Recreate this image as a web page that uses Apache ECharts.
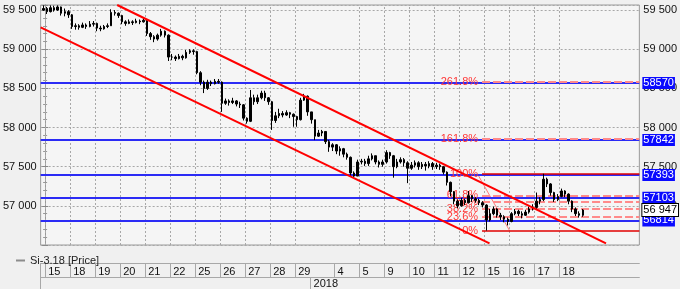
<!DOCTYPE html>
<html><head><meta charset="utf-8">
<script src="https://cdn.jsdelivr.net/npm/echarts@6/dist/echarts.min.js"></script>
<style>html,body{margin:0;padding:0;background:#f0f0f0}#c{width:680px;height:289px}</style>
</head><body><div id="c"></div>
<script>
const seriesName = 'Si-3.18 [Price]';
const dayLabels = ['15','18','19','20','21','22','25','26','27','28','29','4','5','9','10','11','12','15','16','17','18'];
const dayStarts = [0,7,14,21,28,35,42,49,56,63,70,81,88,95,102,109,116,123,130,137,144];
const gridDays = [0,7,14,21,28,35,42,49,56,63,70,88,95,102,109,116,123,130,137,144];
const yearLabel = '2018';
const yearStart = 74.3;
const firstOpen = 59500;
const closes = [
59520,59480,59530,59500,59540,59460,59480,59440,59290,59300,
59280,59310,59290,59320,59330,59270,59260,59290,59300,59470,
59460,59430,59350,59330,59350,59340,59360,59350,59370,59200,
59160,59130,59180,59230,59180,58900,58900,58880,58910,58890,
58960,58980,58970,58700,58580,58500,58580,58560,58590,58580,
58310,58340,58320,58340,58300,58290,58120,58080,58380,58330,
58380,58440,58380,58330,58090,58150,58180,58160,58190,58170,
58140,58100,58350,58400,58200,58100,57890,57930,57950,57820,
57750,57780,57700,57730,57660,57620,57420,57380,57560,57570,
57540,57600,57640,57560,57530,57560,57680,57640,57500,57560,
57590,57550,57480,57520,57550,57500,57530,57510,57540,57500,
57520,57500,57430,57300,57180,57060,57000,57070,57040,57130,
57090,57070,57040,57010,56820,56900,56960,56880,56860,56830,
56800,56900,56930,56900,56880,56920,56960,56980,57060,57080,
57340,57280,57170,57080,57120,57190,57150,57060,56960,56900,
56880,56947];
const highs = [
59560,59540,59560,59555,59560,59545,59520,59500,59450,59330,
59320,59340,59330,59360,59360,59340,59300,59310,59330,59510,
59500,59470,59440,59370,59380,59370,59390,59380,59400,59370,
59220,59180,59200,59260,59240,59190,58940,58920,58940,58930,
58990,59000,59000,58980,58720,58600,58610,58600,58620,58620,
58590,58370,58360,58380,58350,58330,58300,58130,58480,58420,
58420,58470,58470,58390,58340,58200,58240,58210,58220,58200,
58180,58150,58380,58430,58410,58200,58100,57970,57970,57950,
57840,57800,57790,57760,57740,57680,57630,57440,57590,57600,
57600,57640,57670,57640,57580,57590,57710,57690,57650,57600,
57620,57610,57570,57560,57580,57570,57560,57560,57570,57560,
57550,57540,57510,57440,57310,57190,57080,57100,57090,57190,
57140,57110,57090,57060,57020,56960,56990,56970,56910,56880,
56850,56920,56960,56950,56930,56950,56990,57020,57170,57110,
57410,57360,57290,57180,57150,57220,57200,57160,57070,56980,
56930,56960];
const lows = [
59490,59450,59470,59480,59490,59430,59420,59400,59260,59250,
59250,59270,59260,59280,59290,59230,59230,59250,59270,59300,
59430,59400,59320,59300,59320,59310,59330,59320,59340,59170,
59120,59090,59110,59160,59150,58850,58860,58850,58870,58860,
58880,58940,58930,58680,58540,58440,58480,58530,58550,58560,
58200,58290,58280,58300,58270,58250,58090,58050,58070,58290,
58300,58360,58340,58290,57970,58060,58120,58130,58150,58120,
58010,58010,58090,58340,58150,58050,57840,57880,57890,57790,
57690,57700,57660,57640,57620,57590,57370,57360,57380,57530,
57510,57510,57580,57530,57490,57500,57540,57600,57360,57480,
57540,57500,57290,57460,57490,57460,57470,57450,57480,57460,
57470,57460,57400,57260,57120,57020,56970,56990,57010,57030,
57050,57040,57010,56980,56684,56800,56880,56850,56820,56790,
56750,56790,56880,56870,56840,56870,56900,56940,56960,57020,
57060,57240,57130,57050,57060,57110,57110,57020,56920,56870,
56850,56860];
const levels = [58570,57842,57393,57103,56814];
const fibLow = 56684, fibHigh = 57410, fibStart = 122.3;
const fibLevels = [0,23.6,38.2,50,61.8,100,161.8,261.8];
const fibDiagonal = [[121.0,57410],[130.0,56684]];
const upperChannel = [[20.17,59565],[157.0,56521]];
const lowerChannel = [[-1.26,59279],[124.4,56521]];
const lastPrice = closes[closes.length-1];

const X_MIN = -1.257, X_MAX = 166.34, Y_MIN = 56500, Y_MAX = 59565;
const fmt = v => String(Math.round(v)).replace(/\B(?=(\d{3})+(?!\d))/g,' ');
const FONT = 'Liberation Sans';
const FS = 11;

const candles = closes.map((c,i)=>{
  const o = i ? closes[i-1] : firstOpen;
  return [i-0.5, o, c, Math.min(lows[i],o,c), Math.max(highs[i],o,c)];
});

const fibLines = fibLevels.map(l=>{
  const p = fibLow + (fibHigh-fibLow)*l/100;
  const solid = (l===0||l===100);
  const ls = solid ? {color:'#e00000', width:1.5, type:'solid'} : {color:'#ff8a8a', width:2, type:[8,3]};
  const lab = {show:true, position:'start', distance:4, formatter: l+'%', color:'#ff3838', fontSize:FS, fontFamily:FONT};
  return [{coord:[fibStart,p], lineStyle:ls, label:lab},{coord:[X_MAX,p], lineStyle:ls}];
});

const chart = echarts.init(document.getElementById('c'));
chart.setOption({
  backgroundColor:'#f0f0f0',
  animation:false,
  textStyle:{fontFamily:FONT},
  legend:{left:11, top:250, icon:'rect', itemWidth:9, itemHeight:2, itemGap:6,
    itemStyle:{color:'#8c8c8c', borderWidth:0},
    textStyle:{fontSize:FS, color:'#222', fontFamily:FONT},
    data:[{name:seriesName, icon:'rect', itemStyle:{color:'#8c8c8c', borderColor:'#8c8c8c', borderWidth:0}}]},
  grid:{left:40, right:40, top:5, bottom:44, show:true, backgroundColor:'#f5f5f5', borderColor:'#9a9a9a', borderWidth:1},
  xAxis:[{
    type:'value', min:X_MIN, max:X_MAX, position:'bottom', offset:18,
    axisLine:{show:true, lineStyle:{color:'#a8a8a8'}},
    axisTick:{show:true, customValues:[X_MIN].concat(dayStarts), length:14, lineStyle:{color:'#a8a8a8'}},
    axisLabel:{show:true, customValues:dayStarts, formatter:v=>{const i=dayStarts.indexOf(Math.round(v)); return i>=0?dayLabels[i]:'';},
      align:'left', padding:[0,0,0,3], margin:3, fontSize:FS, color:'#111', fontFamily:FONT},
    splitLine:{show:false}
  },{
    type:'value', min:X_MIN, max:X_MAX, position:'bottom', offset:32,
    axisLine:{show:true, lineStyle:{color:'#a8a8a8'}},
    axisTick:{show:true, customValues:[X_MIN, yearStart], length:12, lineStyle:{color:'#a8a8a8'}},
    axisLabel:{show:true, customValues:[yearStart], formatter:()=>yearLabel, align:'left', padding:[0,0,0,3], margin:1, fontSize:FS, color:'#111', fontFamily:FONT},
    splitLine:{show:false}
  }],
  yAxis:[{
    type:'value', min:Y_MIN, max:Y_MAX, interval:500, position:'left',
    axisLine:{show:true, lineStyle:{color:'#9a9a9a'}},
    axisTick:{show:true, length:3, lineStyle:{color:'#888'}},
    minorTick:{show:true, splitNumber:5, length:2, lineStyle:{color:'#999'}},
    axisLabel:{showMaxLabel:false, showMinLabel:false, formatter:fmt, margin:4, fontSize:FS, color:'#111', fontFamily:FONT},
    splitLine:{show:true, lineStyle:{color:'#a8a8a8', type:[2,2]}}
  },{
    type:'value', min:Y_MIN, max:Y_MAX, interval:500, position:'right',
    axisLine:{show:true, lineStyle:{color:'#9a9a9a'}},
    axisTick:{show:true, length:3, lineStyle:{color:'#888'}},
    minorTick:{show:true, splitNumber:5, length:2, lineStyle:{color:'#999'}},
    axisLabel:{showMaxLabel:false, showMinLabel:false, formatter:fmt, margin:4, fontSize:FS, color:'#111', fontFamily:FONT},
    splitLine:{show:false}
  }],
  series:[
    {type:'line', name:'grid', data:[], z:1, silent:true,
      markLine:{silent:true, symbol:'none', animation:false, label:{show:false},
        lineStyle:{color:'#a8a8a8', type:[2,2], width:1},
        data:gridDays.map(u=>({xAxis:u}))}},
    {type:'line', name:'levels', data:[], z:2, silent:true,
      markLine:{silent:true, symbol:'none', animation:false,
        lineStyle:{color:'#2b2bf5', type:'solid', width:2},
        label:{show:true, position:'end', distance:3, formatter:p=>String(p.value), color:'#fff', backgroundColor:'#0a0aff', padding:[1,1,0,1], fontSize:FS, fontFamily:FONT},
        data:levels.map(v=>({yAxis:v}))}},
    {type:'line', name:'fib', data:[], z:3, silent:true,
      markLine:{silent:true, symbol:'none', animation:false, data:fibLines}},
    {type:'line', name:'fibDiag', data:fibDiagonal, z:3, silent:true, symbol:'none',
      lineStyle:{color:'#ff7a7a', width:1}},
    {type:'candlestick', name:seriesName, data:candles, z:5, barWidth:2,
      itemStyle:{color:'#000', color0:'#000', borderColor:'#000', borderColor0:'#000', borderWidth:1}},
    {type:'line', name:'last', data:[], z:7, silent:true,
      markLine:{silent:true, symbol:'none', animation:false,
        lineStyle:{color:'rgba(0,0,0,0)', width:1},
        label:{show:true, position:'end', distance:3, formatter:()=>fmt(lastPrice), color:'#000', backgroundColor:'#fff', borderColor:'#000', borderWidth:1, padding:[1,1,0,1], fontSize:FS, fontFamily:FONT},
        data:[{yAxis:lastPrice}]}},
    {type:'line', name:'upper', data:upperChannel, z:6, silent:true, symbol:'none', lineStyle:{color:'#ff0000', width:2}},
    {type:'line', name:'lower', data:lowerChannel, z:6, silent:true, symbol:'none', lineStyle:{color:'#ff0000', width:2}}
  ]
});
</script></body></html>
